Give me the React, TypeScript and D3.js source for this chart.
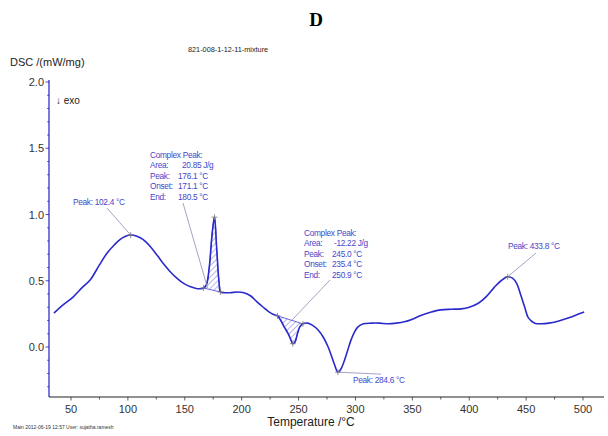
import React from "react";
import * as d3 from "d3";

// DSC curve: temperature (°C) and DSC (mW/mg)
const temps = [35, 42, 51.8, 60, 66.8, 75, 81.8, 88, 93, 98, 102.4, 108, 113.5, 120, 125.9, 132, 137, 143, 149, 155, 161, 166.5, 169, 171.5, 174, 176.1, 178, 180, 181.5, 185, 190, 196, 202, 208, 213, 219, 224, 228, 231.5, 234.4, 237.5, 240.6, 243, 245, 247, 249, 251, 253.8, 258, 262, 267, 272, 276, 279, 281.5, 284.6, 287, 290, 293, 296, 299, 302, 307, 314, 321, 329, 336, 343, 350, 358, 366, 375, 384, 393, 400, 408, 415, 422, 428, 433.8, 438, 441.7, 445, 448.8, 452, 457.6, 463, 470, 478, 487.6, 495, 501];
const dsc = [0.256, 0.31, 0.377, 0.45, 0.505, 0.62, 0.71, 0.77, 0.81, 0.835, 0.845, 0.835, 0.81, 0.755, 0.69, 0.62, 0.57, 0.52, 0.48, 0.455, 0.44, 0.445, 0.47, 0.6, 0.85, 0.98, 0.75, 0.5, 0.415, 0.41, 0.41, 0.415, 0.41, 0.385, 0.345, 0.3, 0.265, 0.245, 0.235, 0.2, 0.15, 0.105, 0.06, 0.025, 0.04, 0.1, 0.15, 0.175, 0.18, 0.165, 0.13, 0.07, 0.0, -0.07, -0.13, -0.19, -0.17, -0.11, -0.03, 0.05, 0.11, 0.15, 0.175, 0.18, 0.18, 0.175, 0.18, 0.19, 0.21, 0.24, 0.262, 0.28, 0.285, 0.288, 0.3, 0.33, 0.38, 0.45, 0.5, 0.53, 0.52, 0.48, 0.4, 0.3, 0.22, 0.18, 0.175, 0.18, 0.195, 0.22, 0.245, 0.265];

const xTickValues = [50, 100, 150, 200, 250, 300, 350, 400, 450, 500];
const yTickValues = [0.0, 0.5, 1.0, 1.5, 2.0];

// complex peak ranges: [onset T, end T]
const complexRanges = [[166.5, 181.5], [231.5, 253.8]];
const peakMarkers = [[102.4, 0.845], [176.1, 0.98], [245, 0.025], [284.6, -0.19], [433.8, 0.53]];
const block1 = [["Complex Peak:", ""], ["Area:", "20.85 J/g"], ["Peak:", "176.1 °C"], ["Onset:", "171.1 °C"], ["End:", "180.5 °C"]];
const block2 = [["Complex Peak:", ""], ["Area:", "-12.22 J/g"], ["Peak:", "245.0 °C"], ["Onset:", "235.4 °C"], ["End:", "250.9 °C"]];

const W = 608, H = 436;
const x = d3.scaleLinear().domain([50, 500]).range([71, 583]);
const y = d3.scaleLinear().domain([0, 2]).range([347, 82]);
const axL = 49, axR = 604, axT = 80, axB = 397;

const pts: [number, number][] = temps.map((t, i) => [t, dsc[i]]);
const line = d3.line<[number, number]>().x(d => x(d[0])).y(d => y(d[1])).curve(d3.curveCatmullRom.alpha(0.5));

const curveCol = "#2a2acc";
const annCol = "#4646c8";
const leadCol = "#8c8cb8";
const font = "'Liberation Sans', Arial, sans-serif";

function Cross({ cx, cy }: { cx: number; cy: number }) {
  return (
    <g stroke="#777" strokeWidth={0.8}>
      <line x1={cx - 3} x2={cx + 3} y1={cy} y2={cy} />
      <line x1={cx} x2={cx} y1={cy - 3} y2={cy + 3} />
    </g>
  );
}

function Block({ rows, left, top, valX }: { rows: string[][]; left: number; top: number; valX: number[] }) {
  return (
    <g fontFamily={font} fontSize={8.3} fill={annCol} letterSpacing={-0.3}>
      {rows.map((r, i) => (
        <g key={i}>
          <text x={left} y={top + i * 10.4}>{r[0]}</text>
          {r[1] && <text x={valX[i]} y={top + i * 10.4}>{r[1]}</text>}
        </g>
      ))}
    </g>
  );
}

export default function App() {
  const yMinor = d3.range(-3, 21).map(i => i / 10);
  const xMinor = d3.range(50, 525, 25);
  const hatchPaths = complexRanges.map(([a, b]) => {
    const sub = pts.filter(p => p[0] >= a && p[0] <= b);
    return line(sub) + "Z";
  });
  const [c1o, c1e] = complexRanges[0];
  const c1oi = temps.indexOf(c1o), c1ei = temps.indexOf(c1e);
  const c2oi = temps.indexOf(complexRanges[1][0]), c2ei = temps.indexOf(complexRanges[1][1]);
  const baseMid2 = [(x(temps[c2oi]) + x(temps[c2ei])) / 2 + 2, (y(dsc[c2oi]) + y(dsc[c2ei])) / 2];
  const p1 = peakMarkers[0], p4 = peakMarkers[3], p5 = peakMarkers[4];
  return (
    <div style={{ position: "absolute", left: 0, top: 0 }}>
      <svg width={W} height={H} style={{ display: "block", background: "#fff" }}>
        <defs>
          <pattern id="hatch" patternUnits="userSpaceOnUse" width={4} height={4} patternTransform="rotate(45)">
            <line x1={0} y1={0} x2={0} y2={4} stroke={curveCol} strokeWidth={0.7} />
          </pattern>
        </defs>
        <text x={316} y={26} textAnchor="middle" fontFamily="'Liberation Serif', 'Times New Roman', serif" fontWeight="bold" fontSize={19}>D</text>
        <text x={188} y={52} fontFamily={font} fontSize={7.3} fill="#222">821-008-1-12-11-mixture</text>
        <text x={10} y={66} fontFamily={font} fontSize={11} fill="#222">DSC /(mW/mg)</text>
        <text x={56} y={104} fontFamily={font} fontSize={10} fill="#222">↓  exo</text>

        {/* y axis */}
        <line x1={axL} x2={axL} y1={axT} y2={axB} stroke="#2020c0" strokeWidth={1.2} />
        {yMinor.map(v => (
          <line key={v} x1={axL - (Math.abs(v * 2 - Math.round(v * 2)) < 1e-6 ? 3.5 : 1.8)} x2={axL} y1={y(v)} y2={y(v)} stroke="#2020c0" strokeWidth={0.8} />
        ))}
        {yTickValues.map(v => (
          <text key={v} x={44} y={y(v) + 4} textAnchor="end" fontFamily={font} fontSize={11} fill="#333">{v.toFixed(1)}</text>
        ))}

        {/* x axis */}
        <line x1={axL} x2={axR} y1={axB} y2={axB} stroke="#222" strokeWidth={1} />
        {xMinor.map(t => (
          <line key={t} x1={x(t)} x2={x(t)} y1={axB} y2={axB + (t % 50 === 0 ? 3.5 : 2.5)} stroke="#333" strokeWidth={0.8} />
        ))}
        {xTickValues.map(t => (
          <text key={t} x={x(t)} y={413} textAnchor="middle" fontFamily={font} fontSize={11} fill="#333">{t}</text>
        ))}
        <text x={311} y={426} textAnchor="middle" fontFamily={font} fontSize={12} fill="#222">Temperature /°C</text>
        <text x={13} y={429} fontFamily={font} fontSize={5} fill="#333">Main   2012-06-19 12:57    User: sujatha.ramesh</text>

        {/* hatched areas */}
        {hatchPaths.map((d, i) => (
          <path key={i} d={d} fill="url(#hatch)" stroke={curveCol} strokeWidth={0.7} />
        ))}

        {/* curve */}
        <path d={line(pts) || ""} fill="none" stroke={curveCol} strokeWidth={1.6} />

        {/* markers */}
        {peakMarkers.map((p, i) => <Cross key={i} cx={x(p[0])} cy={y(p[1])} />)}
        {[c1oi, c1ei, c2oi, c2ei].map(i => <Cross key={"o" + i} cx={x(temps[i])} cy={y(dsc[i])} />)}

        {/* leaders */}
        <g stroke={leadCol} strokeWidth={0.8}>
          <line x1={107} y1={208} x2={x(p1[0])} y2={y(p1[1])} />
          <line x1={183} y1={203} x2={x(temps[c1oi]) + 4} y2={y(dsc[c1oi])} />
          <line x1={330} y1={280} x2={baseMid2[0]} y2={baseMid2[1]} />
          <line x1={x(p4[0])} y1={y(p4[1])} x2={381} y2={y(p4[1]) + 2} />
          <line x1={536} y1={253} x2={x(p5[0])} y2={y(p5[1])} />
        </g>

        {/* annotation texts */}
        <text x={73} y={205} fontFamily={font} fontSize={8.3} fill={annCol} letterSpacing={-0.3}>Peak: 102.4 °C</text>
        <Block rows={block1} left={150} top={158} valX={[0, 182, 178, 178, 178]} />
        <Block rows={block2} left={304} top={236} valX={[0, 334, 332, 332, 332]} />
        <text x={353} y={383} fontFamily={font} fontSize={8.3} fill={annCol} letterSpacing={-0.3}>Peak: 284.6 °C</text>
        <text x={508} y={249} fontFamily={font} fontSize={8.3} fill={annCol} letterSpacing={-0.3}>Peak: 433.8 °C</text>
      </svg>
    </div>
  );
}
